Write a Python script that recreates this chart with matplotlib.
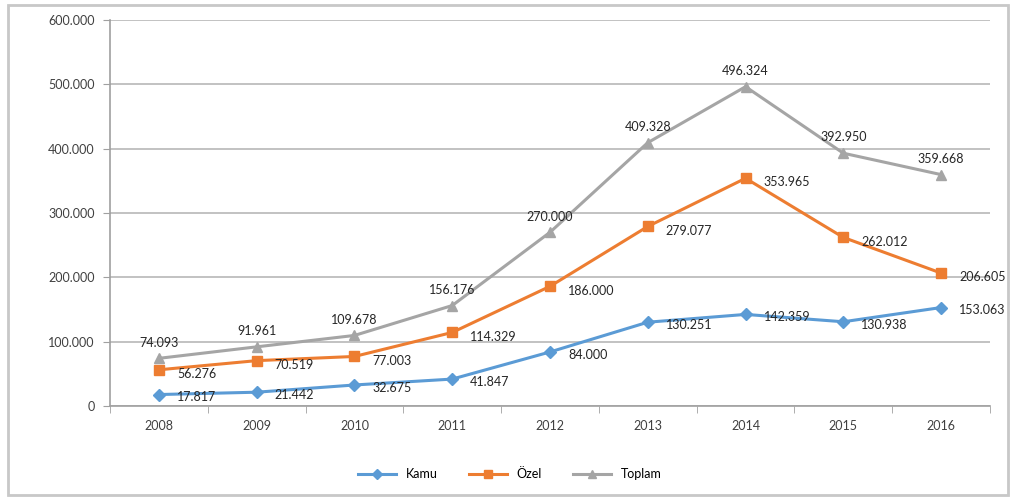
import matplotlib.pyplot as plt
from matplotlib.patches import Rectangle
from matplotlib.ticker import FuncFormatter, MultipleLocator, FixedLocator

years = ["2008", "2009", "2010", "2011", "2012", "2013", "2014", "2015", "2016"]
kamu = [17817, 21442, 32675, 41847, 84000, 130251, 142359, 130938, 153063]
ozel = [56276, 70519, 77003, 114329, 186000, 279077, 353965, 262012, 206605]
toplam = [74093, 91961, 109678, 156176, 270000, 409328, 496324, 392950, 359668]

plt.rcParams['font.family'] = ['Lato', 'DejaVu Sans']


def tr_fmt(v, pos=None):
    return f"{int(round(v)):,}".replace(",", ".")


fig = plt.figure(figsize=(10.14, 5.0), dpi=100)
ax = fig.add_axes([110 / 1014, 1 - 406 / 500, 880 / 1014, 386 / 500])

# outer frame
fig.patches.append(Rectangle((8 / 1014, 5 / 500), 1000 / 1014, 490 / 500,
                             transform=fig.transFigure, fill=False,
                             edgecolor="#c8c8c8", linewidth=2))

x = list(range(len(years)))
series = [
    ("Kamu", kamu, "#5b9bd5", "D", 6, (13, -2), "left", "center"),
    ("Özel", ozel, "#ed7d31", "s", 7, (13, -3), "left", "center"),
    ("Toplam", toplam, "#a5a5a5", "^", 7, (0, 7), "center", "bottom"),
]
for name, vals, col, mk, ms, off, ha, va in series:
    ax.plot(x, vals, color=col, marker=mk, markersize=ms, linewidth=2.2,
            label=name, zorder=3)
    for xi, v in zip(x, vals):
        ax.annotate(tr_fmt(v), (xi, v), xytext=off, textcoords="offset points",
                    ha=ha, va=va, fontsize=9, color="#262626", zorder=4)

ax.set_xlim(-0.5, 8.5)
ax.set_ylim(0, 600000)
ax.yaxis.set_major_locator(MultipleLocator(100000))
ax.yaxis.set_major_formatter(FuncFormatter(tr_fmt))
ax.set_xticks(x)
ax.set_xticklabels(years)
ax.xaxis.set_minor_locator(FixedLocator([i - 0.5 for i in range(len(years) + 1)]))
ax.tick_params(axis="x", which="major", length=0, pad=10, labelsize=9, labelcolor="#404040")
ax.tick_params(axis="x", which="minor", length=5, color="#a0a0a0")
ax.tick_params(axis="y", length=5, color="#a0a0a0", labelsize=9, labelcolor="#404040", pad=6)
ax.grid(axis="y", color="#b8b8b8", linewidth=1.2)
ax.set_axisbelow(True)
for s in ["top", "right"]:
    ax.spines[s].set_visible(False)
ax.spines["left"].set_color("#a0a0a0")
ax.spines["bottom"].set_color("#a0a0a0")
ax.spines["left"].set_linewidth(1.2)
ax.spines["bottom"].set_linewidth(1.2)

fig.legend(loc="center", bbox_to_anchor=(510 / 1014, 1 - 474 / 500), ncol=3,
           frameon=False, fontsize=9, handlelength=3, columnspacing=2.5,
           markerscale=0.8)

fig.savefig("out.png", dpi=100)
